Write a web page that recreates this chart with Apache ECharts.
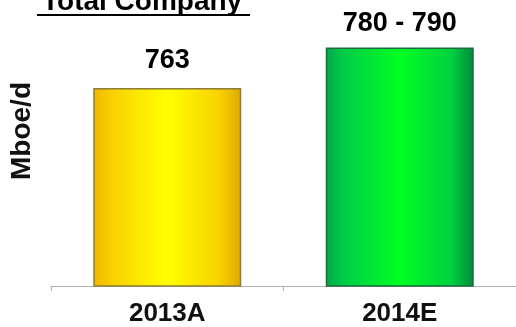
<!DOCTYPE html>
<html>
<head>
<meta charset="utf-8">
<script src="https://cdn.jsdelivr.net/npm/echarts@6/dist/echarts.min.js"></script>
<style>html,body{margin:0;padding:0;background:#fff;}#c{width:516px;height:327px;}</style>
</head>
<body>
<div id="c"></div>
<script>
var categories = ['2013A', '2014E'];
var values = [763, 785];
var valueLabels = ['763', '780 - 790'];
var titleText = 'Total Company ';
var yName = 'Mboe/d';

var gradients = [
  new echarts.graphic.LinearGradient(0, 0, 1, 0, [
    {offset: 0, color: '#f2b400'},
    {offset: 0.12, color: '#f9d000'},
    {offset: 0.5, color: '#ffff00'},
    {offset: 0.85, color: '#f8d200'},
    {offset: 1, color: '#e0a800'}
  ]),
  new echarts.graphic.LinearGradient(0, 0, 1, 0, [
    {offset: 0, color: '#00a84a'},
    {offset: 0.12, color: '#00cc48'},
    {offset: 0.5, color: '#00ff22'},
    {offset: 0.85, color: '#00d040'},
    {offset: 1, color: '#008a3c'}
  ])
];
var borders = ['#8c7d3c', '#1f6a3c'];

var chart = echarts.init(document.getElementById('c'), null, {renderer: 'canvas'});
chart.setOption({
  animation: false,
  backgroundColor: '#ffffff',
  title: {
    text: titleText,
    left: 37,
    top: -17,
    textStyle: {fontFamily: 'Liberation Sans, Arial', fontWeight: 'bold', fontSize: 28, color: '#000'}
  },
  graphic: [{
    type: 'line',
    shape: {x1: 37, y1: 15, x2: 250, y2: 15},
    style: {stroke: '#000', lineWidth: 2}
  }],
  grid: {left: 50, right: 0, top: 20, bottom: 41},
  xAxis: {
    type: 'category',
    data: categories,
    axisLine: {lineStyle: {color: '#b0b0b0', width: 1}},
    axisTick: {show: true, length: 5, lineStyle: {color: '#b0b0b0'}},
    axisLabel: {fontFamily: 'Liberation Sans, Arial', fontWeight: 'bold', fontSize: 26, color: '#111', margin: 15}
  },
  yAxis: {
    type: 'value',
    min: 655,
    max: 800,
    name: yName,
    nameLocation: 'middle',
    nameRotate: 90,
    nameGap: 15,
    nameTextStyle: {fontFamily: 'Liberation Sans, Arial', fontWeight: 'bold', fontSize: 28, color: '#111', padding: [0, 0, 0, 44]},
    axisLine: {show: false},
    axisTick: {show: false},
    axisLabel: {show: false},
    splitLine: {show: false}
  },
  series: [{
    type: 'bar',
    barWidth: 148,
    data: values.map(function (v, i) {
      return {
        value: v,
        itemStyle: {color: gradients[i], borderColor: borders[i], borderWidth: 1.5},
        label: {formatter: valueLabels[i], distance: i === 0 ? 14 : 10}
      };
    }),
    label: {
      show: true,
      position: 'top',
      fontFamily: 'Liberation Sans, Arial',
      fontWeight: 'bold',
      fontSize: 27,
      color: '#000'
    }
  }]
});
</script>
</body>
</html>
